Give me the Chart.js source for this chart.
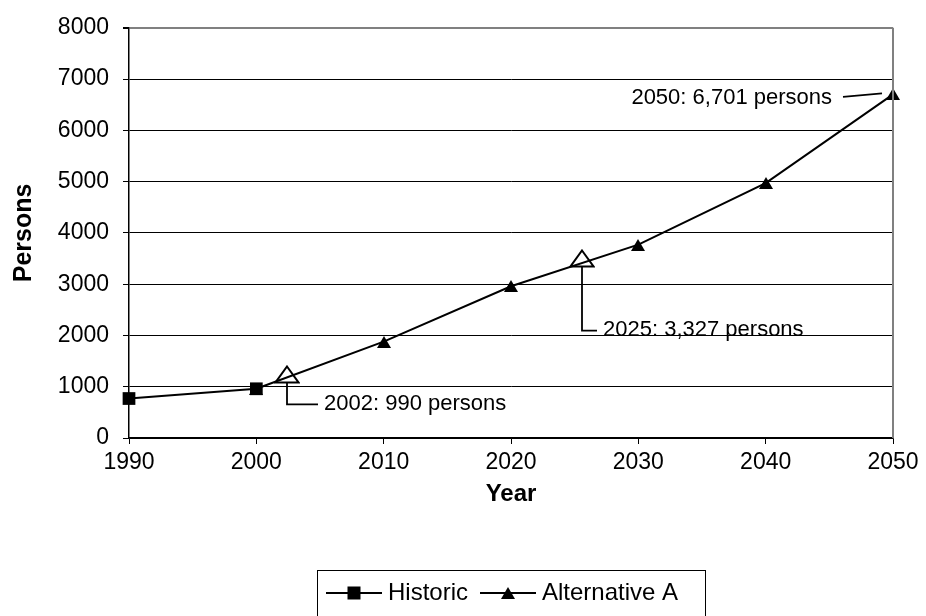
<!DOCTYPE html>
<html>
<head>
<meta charset="utf-8">
<script src="https://cdn.jsdelivr.net/npm/chart.js@4/dist/chart.umd.min.js"></script>
<style>
  html, body { margin: 0; padding: 0; background: #fff; }
  #wrap { width: 926px; height: 616px; }
</style>
</head>
<body>
<div id="wrap"><canvas id="c" width="926" height="616"></canvas></div>
<script>
// ---- data ----
const histYears = [1990, 2000];
const histValues = [770, 960];
const altYears = [2000, 2010, 2020, 2030, 2040, 2050];
const altValues = [960, 1880, 2960, 3770, 4970, 6701];
const calloutYears = [2002.4, 2025.6];
const calloutMarkerValues = [1230, 3510];
const calloutLabelValues = [654, 2096];
const calloutTexts = ['2002: 990 persons', '2025: 3,327 persons'];
const endLabelText = '2050: 6,701 persons';
const seriesNames = ['Historic', 'Alternative A'];
const yTicks = [0, 1000, 2000, 3000, 4000, 5000, 6000, 7000, 8000];
const xTicks = [1990, 2000, 2010, 2020, 2030, 2040, 2050];

const FONT = '"Liberation Sans", Arial, Helvetica, sans-serif';
const calloutLeg = [31, 15];

function makeTri(w, h, filled, lw) {
  const c = document.createElement('canvas');
  c.width = w; c.height = h;
  const g = c.getContext('2d');
  const p = filled ? 0 : lw / 2 + 0.5;
  g.beginPath();
  g.moveTo(w / 2, p);
  g.lineTo(w - p, h - p);
  g.lineTo(p, h - p);
  g.closePath();
  if (filled) { g.fillStyle = '#000'; g.fill(); }
  else { g.fillStyle = '#fff'; g.fill(); g.lineWidth = lw; g.strokeStyle = '#000'; g.stroke(); }
  return c;
}
const triFilled = makeTri(14, 12, true, 0);
const triOpen = makeTri(26, 19, false, 2);

const toXY = (xs, ys) => xs.map((x, i) => ({ x: x, y: ys[i] }));

const decorPlugin = {
  id: 'decor',
  beforeDatasetsDraw(chart) {
    chart.ctx.imageSmoothingEnabled = false;
  },
  afterDatasetsDraw(chart) {
    const { ctx, chartArea: a, scales: { x, y } } = chart;
    ctx.imageSmoothingEnabled = true;
    ctx.save();
    ctx.strokeStyle = '#808080';
    ctx.lineWidth = 2;
    ctx.beginPath();
    ctx.moveTo(a.right, a.top);
    ctx.lineTo(a.right, a.bottom);
    ctx.stroke();

    ctx.strokeStyle = '#000';
    ctx.lineWidth = 1.8;
    ctx.fillStyle = '#000';
    ctx.font = '22px ' + FONT;
    ctx.textBaseline = 'middle';
    ctx.textAlign = 'left';
    calloutYears.forEach((yr, i) => {
      const px = Math.round(x.getPixelForValue(yr));
      const py = y.getPixelForValue(calloutMarkerValues[i]);
      const ly = y.getPixelForValue(calloutLabelValues[i]);
      ctx.beginPath();
      ctx.moveTo(px, py + 8);
      ctx.lineTo(px, ly);
      ctx.lineTo(px + calloutLeg[i], ly);
      ctx.stroke();
      ctx.fillText(calloutTexts[i], px + calloutLeg[i] + 6, ly - 1);
    });
    const ex = x.getPixelForValue(altYears[altYears.length - 1]);
    const ey = y.getPixelForValue(altValues[altValues.length - 1]);
    ctx.beginPath();
    ctx.moveTo(ex - 50, ey + 2.5);
    ctx.lineTo(ex - 11, ey - 1);
    ctx.stroke();
    ctx.textAlign = 'right';
    ctx.fillText(endLabelText, ex - 61, ey + 4);
    ctx.restore();
  },
  afterDraw(chart) {
    const { ctx, chartArea: a } = chart;
    ctx.save();
    const cx = (a.left + a.right) / 2;
    const boxW = 388;
    const left = cx - boxW / 2;
    const top = 570.5;
    const my = 593;
    ctx.strokeStyle = '#000';
    ctx.lineWidth = 1;
    ctx.strokeRect(Math.round(left) + 0.5, top, boxW, 60);
    ctx.font = '24px ' + FONT;
    ctx.textBaseline = 'middle';
    ctx.textAlign = 'left';
    ctx.fillStyle = '#000';
    let xx = left + 9;
    ctx.lineWidth = 2;
    ctx.beginPath(); ctx.moveTo(xx, my); ctx.lineTo(xx + 56, my); ctx.stroke();
    ctx.fillRect(xx + 28 - 6.5, my - 6.5, 13, 13);
    ctx.fillText(seriesNames[0], xx + 62, my);
    xx = xx + 62 + ctx.measureText(seriesNames[0]).width + 12;
    ctx.beginPath(); ctx.moveTo(xx, my); ctx.lineTo(xx + 56, my); ctx.stroke();
    ctx.drawImage(triFilled, Math.round(xx + 28 - triFilled.width / 2), Math.round(my - triFilled.height / 2));
    ctx.fillText(seriesNames[1], xx + 62, my);
    ctx.restore();
  }
};

new Chart(document.getElementById('c'), {
  type: 'line',
  data: {
    datasets: [
      {
        label: seriesNames[0],
        data: toXY(histYears, histValues),
        borderColor: '#000', backgroundColor: '#000', borderWidth: 2,
        pointStyle: 'rect', pointRadius: 9, pointBorderWidth: 0,
        tension: 0, fill: false, clip: false
      },
      {
        label: seriesNames[1],
        data: toXY(altYears, altValues),
        borderColor: '#000', backgroundColor: '#000', borderWidth: 2,
        pointStyle: triFilled, pointRadius: 6, pointBorderWidth: 0,
        tension: 0, fill: false, clip: false
      },
      {
        label: 'callouts',
        data: toXY(calloutYears, calloutMarkerValues),
        showLine: false,
        pointStyle: triOpen, pointRadius: 10,
        clip: false
      }
    ]
  },
  options: {
    responsive: false,
    animation: false,
    events: [],
    layout: { padding: { top: 22, right: 33, left: 0, bottom: 0 } },
    plugins: { legend: { display: false }, tooltip: { enabled: false } },
    scales: {
      x: {
        type: 'linear', min: 1990, max: 2050,
        afterBuildTicks: s => { s.ticks = xTicks.map(v => ({ value: v })); },
        afterFit: s => { s.height = 178; },
        ticks: { color: '#000', font: { family: FONT, size: 23 }, padding: 5, maxRotation: 0,
                 callback: v => String(v) },
        grid: { drawOnChartArea: false, drawTicks: true, tickLength: 6, tickColor: '#000', color: '#000', lineWidth: 1 },
        border: { color: '#000', width: 1.5 },
        title: { display: true, text: 'Year', color: '#000',
                 font: { family: FONT, size: 24, weight: 'bold' }, padding: { top: 0, bottom: 107 } }
      },
      y: {
        min: 0, max: 8000,
        afterBuildTicks: s => { s.ticks = yTicks.map(v => ({ value: v })); },
        afterFit: s => { s.width = 129; },
        ticks: { color: '#000', font: { family: FONT, size: 23 }, padding: 14,
                 callback: v => String(v) },
        grid: { drawTicks: true, tickLength: 6, tickColor: '#000',
                color: ctx => (ctx.tick && ctx.tick.value === 8000 ? '#808080' : '#000'),
                lineWidth: ctx => (ctx.tick && ctx.tick.value === 8000 ? 2 : 1) },
        border: { color: '#000', width: 1.5 },
        title: { display: true, text: 'Persons', color: '#000',
                 font: { family: FONT, size: 25, weight: 'bold' }, padding: { top: 9, bottom: 0 } }
      }
    }
  },
  plugins: [decorPlugin]
});
</script>
</body>
</html>
